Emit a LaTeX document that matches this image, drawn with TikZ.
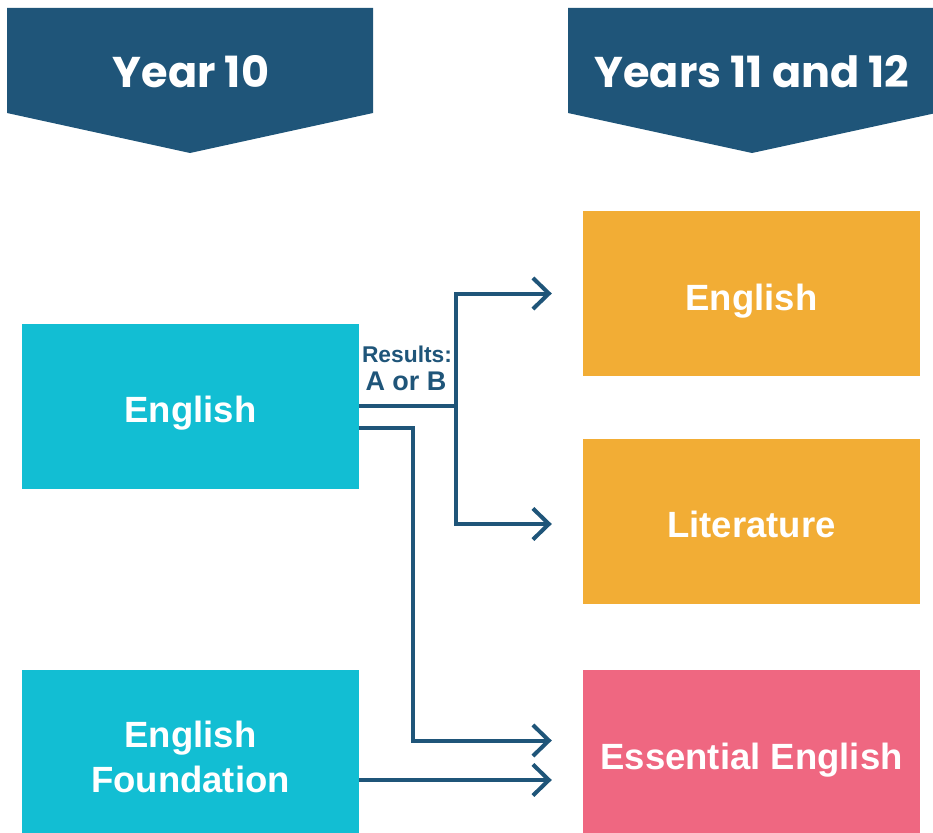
\documentclass[tikz,border=0pt]{standalone}
\usepackage{fontspec}
\setmainfont{Liberation Sans}
\newfontfamily\headfont{Poppins}
\usetikzlibrary{arrows.meta,calc}
\definecolor{navy}{HTML}{1F5579}
\definecolor{cyanbox}{HTML}{12BED3}
\definecolor{orangebox}{HTML}{F2AD35}
\definecolor{pinkbox}{HTML}{EF6781}
\begin{document}
\begin{tikzpicture}[x=1pt,y=-1pt,
  box/.style={fill=#1, text=white, minimum width=337pt, minimum height=165pt,
    inner sep=0pt, align=center, text height=33pt, text depth=0pt,
    font=\bfseries\fontsize{36.5}{45}\selectfont},
  boxtext/.style={text=white, inner sep=0pt, align=center,
    font=\bfseries\fontsize{36.5}{45}\selectfont},
  headtext/.style={text=white, font=\headfont\bfseries\fontsize{43}{48}\selectfont, inner sep=0pt},
  banner/.style={fill=navy},
  conn/.style={draw=navy, line width=4pt},
  arr/.style={conn, -{Straight Barb[length=16pt,width=31pt,line width=4pt]}, shorten >=31pt},
  lbl/.style={text=navy, font=\bfseries, inner sep=0pt, anchor=base}
]
\useasboundingbox (0,0) rectangle (933,832);
% banners
\fill[banner] (7,8) -- (373,8) -- (373,113) -- (190,153) -- (7,113) -- cycle;
\fill[banner] (568,8) -- (936,8) -- (936,113) -- (752,153) -- (568,113) -- cycle;
\node[headtext] (h1) at (191,71.5) {Year 10};
\node[headtext] (h2) at (752,71.5) {Years 11 and 12};
% boxes
\node[box=cyanbox] (eng) at (190.5,406) {English};
\node[box=cyanbox] (fnd) at (190.5,752.5) {};
\node[boxtext] (fndt) at (190.5,757) {English\\Foundation};
\node[box=orangebox] (reng) at (751.5,293.5) {English};
\node[box=orangebox] (lit) at (751.5,521) {Literature};
\node[box=pinkbox] (ess) at (751.5,752.5) {Essential English};
% label
\node[lbl, font=\bfseries\fontsize{22.8}{26}\selectfont] (res1) at (407,362) {Results:};
\node[lbl, font=\bfseries\fontsize{27}{30}\selectfont] (res2) at (406,390) {A or B};
% connectors
\coordinate (j) at ($(eng.east)+(97,0)$);
\draw[conn] (eng.east) -- (j);
\draw[arr] (j) |- (reng.west);
\draw[arr] (j) |- ($(lit.west)+(0,3)$);
\draw[arr] ($(eng.east)+(0,22)$) -| ($(eng.east)+(54,22)$) |- ($(ess.west)+(0,-12)$);
\draw[arr] ($(fnd.east)+(0,27.5)$) -- ($(ess.west)+(0,27.5)$);
\end{tikzpicture}
\end{document}
